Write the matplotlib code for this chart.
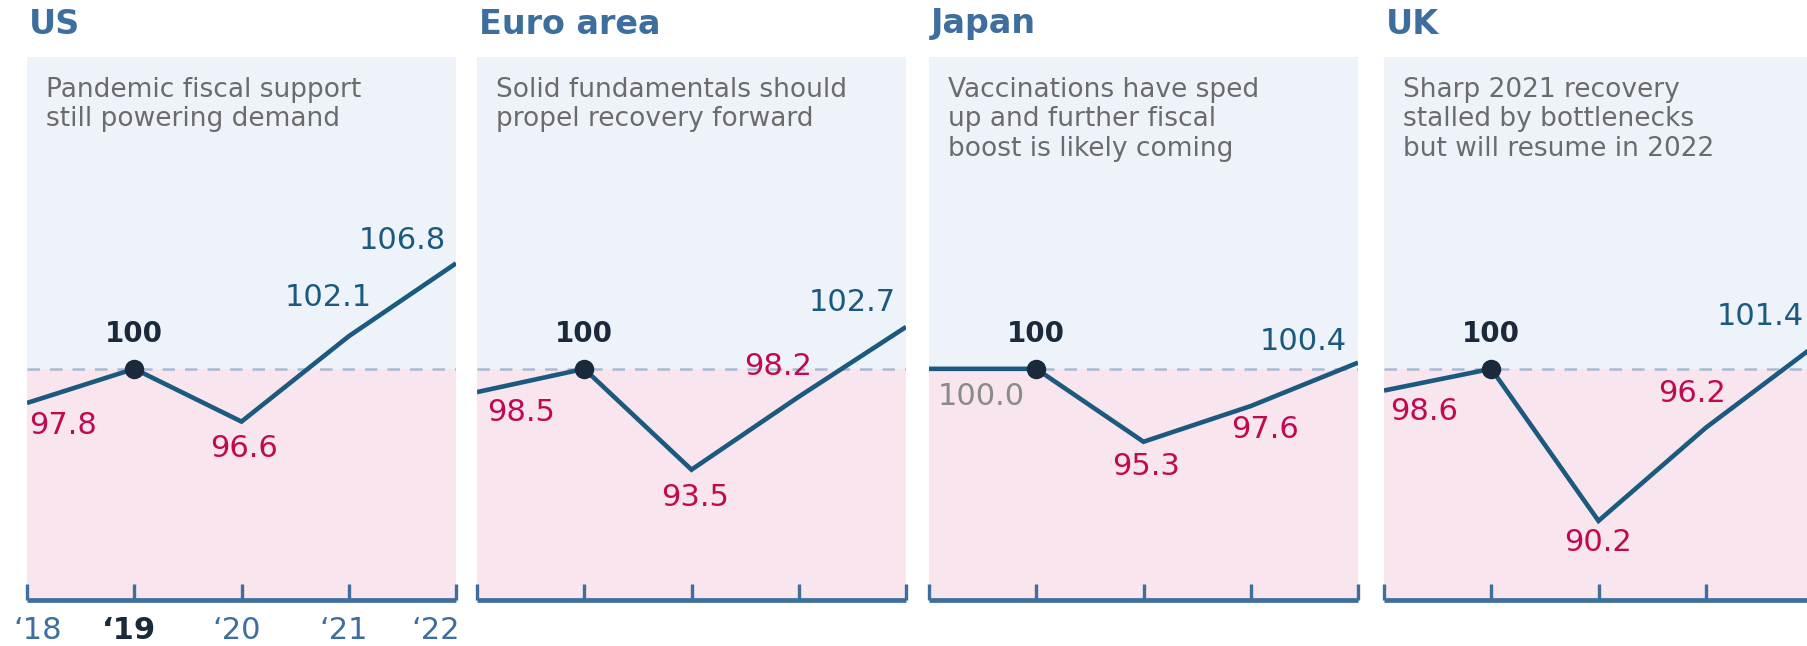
import matplotlib
matplotlib.use("Agg")
import matplotlib.pyplot as plt

plt.rcParams['font.family'] = ['DejaVu Sans']

# ---------------- data ----------------
years = ["\u201818", "\u201819", "\u201820", "\u201821", "\u201822"]
regions = ["US", "Euro area", "Japan", "UK"]
subtitles = [
    "Pandemic fiscal support\nstill powering demand",
    "Solid fundamentals should\npropel recovery forward",
    "Vaccinations have sped\nup and further fiscal\nboost is likely coming",
    "Sharp 2021 recovery\nstalled by bottlenecks\nbut will resume in 2022",
]
us_vals = [97.8, 100, 96.6, 102.1, 106.8]
euro_vals = [98.5, 100, 93.5, 98.2, 102.7]
japan_vals = [100.0, 100, 95.3, 97.6, 100.4]
uk_vals = [98.6, 100, 90.2, 96.2, 101.4]
series = [us_vals, euro_vals, japan_vals, uk_vals]
base_value = 100

# ---------------- style / layout ----------------
W, H = 1807, 646
fig = plt.figure(figsize=(W / 100, H / 100), dpi=100)

C_TITLE = "#3d6e9e"
C_LINE = "#1b5a7e"
C_RED = "#bf0a50"
C_DARK = "#1b2a3a"
C_GRAY = "#8a8a8a"
C_SUB = "#6b6b6b"
C_BLUE_BG = "#eef3fa"
C_PINK_BG = "#f8e5ee"
C_DASH = "#a9bbd2"

lefts_px = [27, 477, 929, 1384]
width_px = 429
bottom_px, top_px = 600, 57
ylim = (85.1, 120.1)

# label offsets (pixels) and alignment for non-base points: (dx, dy, ha)
offsets = [
    [(2, -23, 'left'), None, (2, -27, 'center'), (-21, 39, 'center'), (-10, 23, 'right')],
    [(10, -20, 'left'), None, (4, -28, 'center'), (-21, 30, 'center'), (-10, 24, 'right')],
    [(9, -28, 'left'), None, (3, -25, 'center'), (14, -23, 'center'), (-11, 21, 'right')],
    [(6, -21, 'left'), None, (0, -22, 'center'), (-14, 34, 'center'), (-9, 31, 'right')],
]
PX = 72 / 100  # pixels -> points

for i, (reg, sub, vals) in enumerate(zip(regions, subtitles, series)):
    ax = fig.add_axes([lefts_px[i] / W, 1 - bottom_px / H,
                       width_px / W, (bottom_px - top_px) / H])
    ax.set_xlim(0, len(years) - 1)
    ax.set_ylim(*ylim)
    ax.set_facecolor("none")
    ax.axhspan(base_value, ylim[1], color=C_BLUE_BG, lw=0, zorder=0)
    ax.axhspan(ylim[0] - 1, base_value, color=C_PINK_BG, lw=0, zorder=0)
    ax.axhline(base_value, color=C_DASH, lw=1.8, ls=(0, (5, 4)), zorder=1)

    x = list(range(len(years)))
    ax.plot(x, vals, color=C_LINE, lw=3.3, solid_joinstyle='miter',
            solid_capstyle='butt', zorder=3)
    ax.plot([1], [vals[1]], 'o', color=C_DARK, ms=13, zorder=4)

    # labels
    ax.annotate("100", (1, vals[1]), xytext=(0, 35 * PX), textcoords='offset points',
                ha='center', va='center', fontsize=20, fontweight='bold',
                color=C_DARK, zorder=5)
    for j, v in enumerate(vals):
        if j == 1:
            continue
        dx, dy, ha = offsets[i][j]
        if v > base_value:
            col = C_LINE
        elif v < base_value:
            col = C_RED
        else:
            col = C_GRAY
        ax.annotate(f"{v:.1f}", (j, v), xytext=(dx * PX, dy * PX),
                    textcoords='offset points', ha=ha, va='center',
                    fontsize=22, color=col, zorder=5)

    # subtitle & title
    ax.text(19 / width_px, 1 - 20 / (bottom_px - top_px), sub, transform=ax.transAxes,
            ha='left', va='top', fontsize=19, color=C_SUB, linespacing=1.17)
    fig.text((lefts_px[i] + 2) / W, 1 - 24 / H, reg, ha='left', va='center',
             fontsize=24, fontweight='bold', color=C_TITLE)

    # axis
    for s in ['top', 'left', 'right']:
        ax.spines[s].set_visible(False)
    ax.spines['bottom'].set_color(C_TITLE)
    ax.spines['bottom'].set_linewidth(3.4)
    ax.spines['bottom'].set_capstyle('butt')
    ax.set_yticks([])
    ax.set_xticks(x)
    ax.tick_params(axis='x', direction='in', length=11.5, width=2.4, color=C_TITLE,
                   labelbottom=False)
    if i == 0:
        for j, lab in enumerate(years):
            if j == 0:
                xx, ha = -0.13, 'left'
            elif j == len(years) - 1:
                xx, ha = 4.04, 'right'
            else:
                xx, ha = j - 0.05, 'center'
            ax.text(xx, ylim[0] - 30 / 15.5, lab, ha=ha, va='center',
                    fontsize=22,
                    fontweight='bold' if j == 1 else 'normal',
                    color=C_DARK if j == 1 else C_TITLE, clip_on=False)

fig.savefig("out.png", dpi=100)
